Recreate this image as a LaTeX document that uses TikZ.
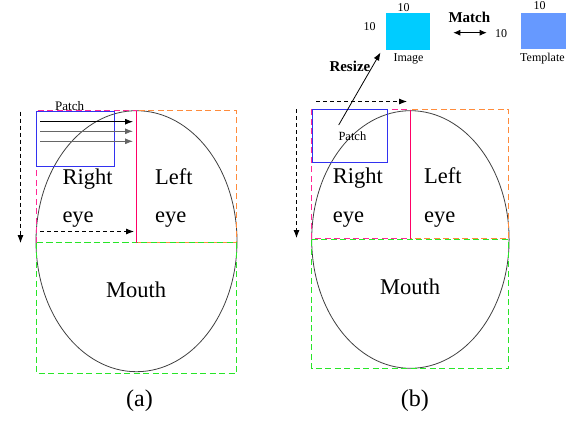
\documentclass[tikz,border=0pt]{standalone}
\usepackage{fontspec}
\setmainfont{Liberation Serif}
\usetikzlibrary{arrows.meta}
\definecolor{pinkc}{RGB}{255,40,150}
\definecolor{redc}{RGB}{255,0,102}
\definecolor{orangec}{RGB}{255,140,60}
\definecolor{greenc}{RGB}{40,230,40}
\definecolor{bluec}{RGB}{50,50,240}
\definecolor{cyanc}{RGB}{0,204,255}
\definecolor{tmplc}{RGB}{102,153,255}
\tikzset{
  big/.style={font=\fontsize{22.5}{24}\selectfont, inner sep=0pt, anchor=base west},
  small/.style={font=\fontsize{12}{14}\selectfont, inner sep=0pt, anchor=base west},
  bold/.style={font=\fontsize{15}{17}\selectfont\bfseries, inner sep=0pt, anchor=base west},
  face/.style={draw=black!75, line width=0.8pt},
  dbox/.style={dash pattern=on 6pt off 3.5pt, line width=1.1pt},
  patchbox/.style={draw=bluec, line width=1pt},
  scan/.style={-{Latex[length=8pt,width=6pt]}, line width=0.8pt},
  dscan/.style={-{Latex[length=8pt,width=6pt]}, line width=0.8pt, dash pattern=on 4pt off 3pt},
  divline/.style={draw=redc, line width=1pt}
}
\begin{document}
\begin{tikzpicture}[x=1pt,y=-1pt]
\useasboundingbox (0,0) rectangle (572,420);
% ===== panel (a) =====
\draw[face] (136.5,241.2) ellipse [x radius=100.5pt, y radius=130.5pt];
\draw[dbox, draw=greenc] (36.5,242.5) rectangle (236.5,373.5);
\draw[dbox, draw=orangec] (136.5,110.5) rectangle (236.5,242.5);
\draw[dbox, draw=pinkc] (36.5,242.5) -- (36.5,110.5) -- (136.5,110.5);
\draw[dbox, draw=greenc] (36.5,242.5) -- (236.5,242.5);
\draw[divline] (136.5,110.5) -- (136.5,242.5);
\node[patchbox, minimum width=77.6pt, minimum height=54.4pt, anchor=north west, inner sep=0pt] (pa) at (36,111.3) {};
\node[small, font=\fontsize{13}{15}\selectfont] (pal) at (55,110) {Patch};
\coordinate (a1s) at (40,121.7); \coordinate (a1e) at (133,121.7);
\coordinate (a2s) at (40,131.3); \coordinate (a2e) at (133,131.3);
\coordinate (a3s) at (40,141.3); \coordinate (a3e) at (133,141.3);
\draw[scan, draw=black, fill=black] (a1s) -- (a1e);
\draw[scan, draw=black!60, fill=black] (a2s) -- (a2e);
\draw[scan, draw=black!60, fill=black] (a3s) -- (a3e);
\coordinate (avs) at (20.5,111.7); \coordinate (ave) at (20.5,243);
\draw[dscan] (avs) -- (ave);
\coordinate (ahs) at (40,231.5); \coordinate (ahe) at (134,231.5);
\draw[dscan] (ahs) -- (ahe);
\node[big] (ar) at (62.3,184.3) {Right};
\node[big] (ae) at (62.3,222.7) {eye};
\node[big] (al) at (155,184.3) {Left};
\node[big] (ae2) at (155,222.7) {eye};
\node[big] (am) at (106,297.7) {Mouth};
\node[big, font=\fontsize{24}{26}\selectfont] (acap) at (126,406) {(a)};
% ===== panel (b) =====
\draw[face] (410.4,239.5) ellipse [x radius=98.7pt, y radius=128.8pt];
\draw[dbox, draw=greenc] (311.5,239.5) rectangle (508.5,368.5);
\draw[dbox, draw=orangec] (410.5,109.5) rectangle (508.5,238.5);
\draw[dbox, draw=pinkc] (311.5,238.5) rectangle (410.5,109.5);
\draw[dbox, draw=greenc] (311.5,239.5) -- (508.5,239.5);
\draw[divline] (410.5,109.5) -- (410.5,238.5);
\node[patchbox, minimum width=75.6pt, minimum height=53pt, anchor=north west, inner sep=0pt] (pb) at (311.7,109.3) {};
\node[small, font=\fontsize{12.5}{14}\selectfont] (pbl) at (338.3,140) {Patch};
\coordinate (bvs) at (296.5,109); \coordinate (bve) at (296.5,238);
\draw[dscan] (bvs) -- (bve);
\coordinate (bhs) at (316,101.5); \coordinate (bhe) at (407,101.5);
\draw[dscan] (bhs) -- (bhe);
\node[big] (br) at (332.7,183.3) {Right};
\node[big] (be) at (332.7,222.3) {eye};
\node[big] (bl) at (424,183.3) {Left};
\node[big] (be2) at (424,222.3) {eye};
\node[big] (bm) at (380,294) {Mouth};
\node[big, font=\fontsize{24}{26}\selectfont] (bcap) at (400.7,406) {(b)};
% resize / match
\node[fill=cyanc, minimum width=44.4pt, minimum height=36.7pt, inner sep=0pt, anchor=north west] (img) at (385.3,13.3) {};
\node[fill=tmplc, minimum width=44.7pt, minimum height=36.6pt, inner sep=0pt, anchor=north west] (tpl) at (521,12.7) {};
\coordinate (rs) at (338.7,125);
\coordinate (re) at (380.5,52.5);
\draw[-{Latex[length=8pt,width=6pt]}, line width=0.8pt] (rs) -- (re);
\node[bold] (rz) at (329.3,71.7) {Resize};
\node[bold] (mt) at (448.3,22.7) {Match};
\coordinate (ms) at (453.3,32.7); \coordinate (me) at (486.7,32.7);
\draw[{Latex[length=7pt,width=6pt]}-{Latex[length=7pt,width=6pt]}, line width=0.8pt] (ms) -- (me);
\node[small] (n1) at (397.3,11.7) {10};
\node[small] (n2) at (363.3,30.7) {10};
\node[small] (n3) at (495,37.3) {10};
\node[small] (n4) at (533.3,9.5) {10};
\node[small] (il) at (393.3,61.7) {Image};
\node[small] (tl) at (520,61) {Template};
\end{tikzpicture}
\end{document}
